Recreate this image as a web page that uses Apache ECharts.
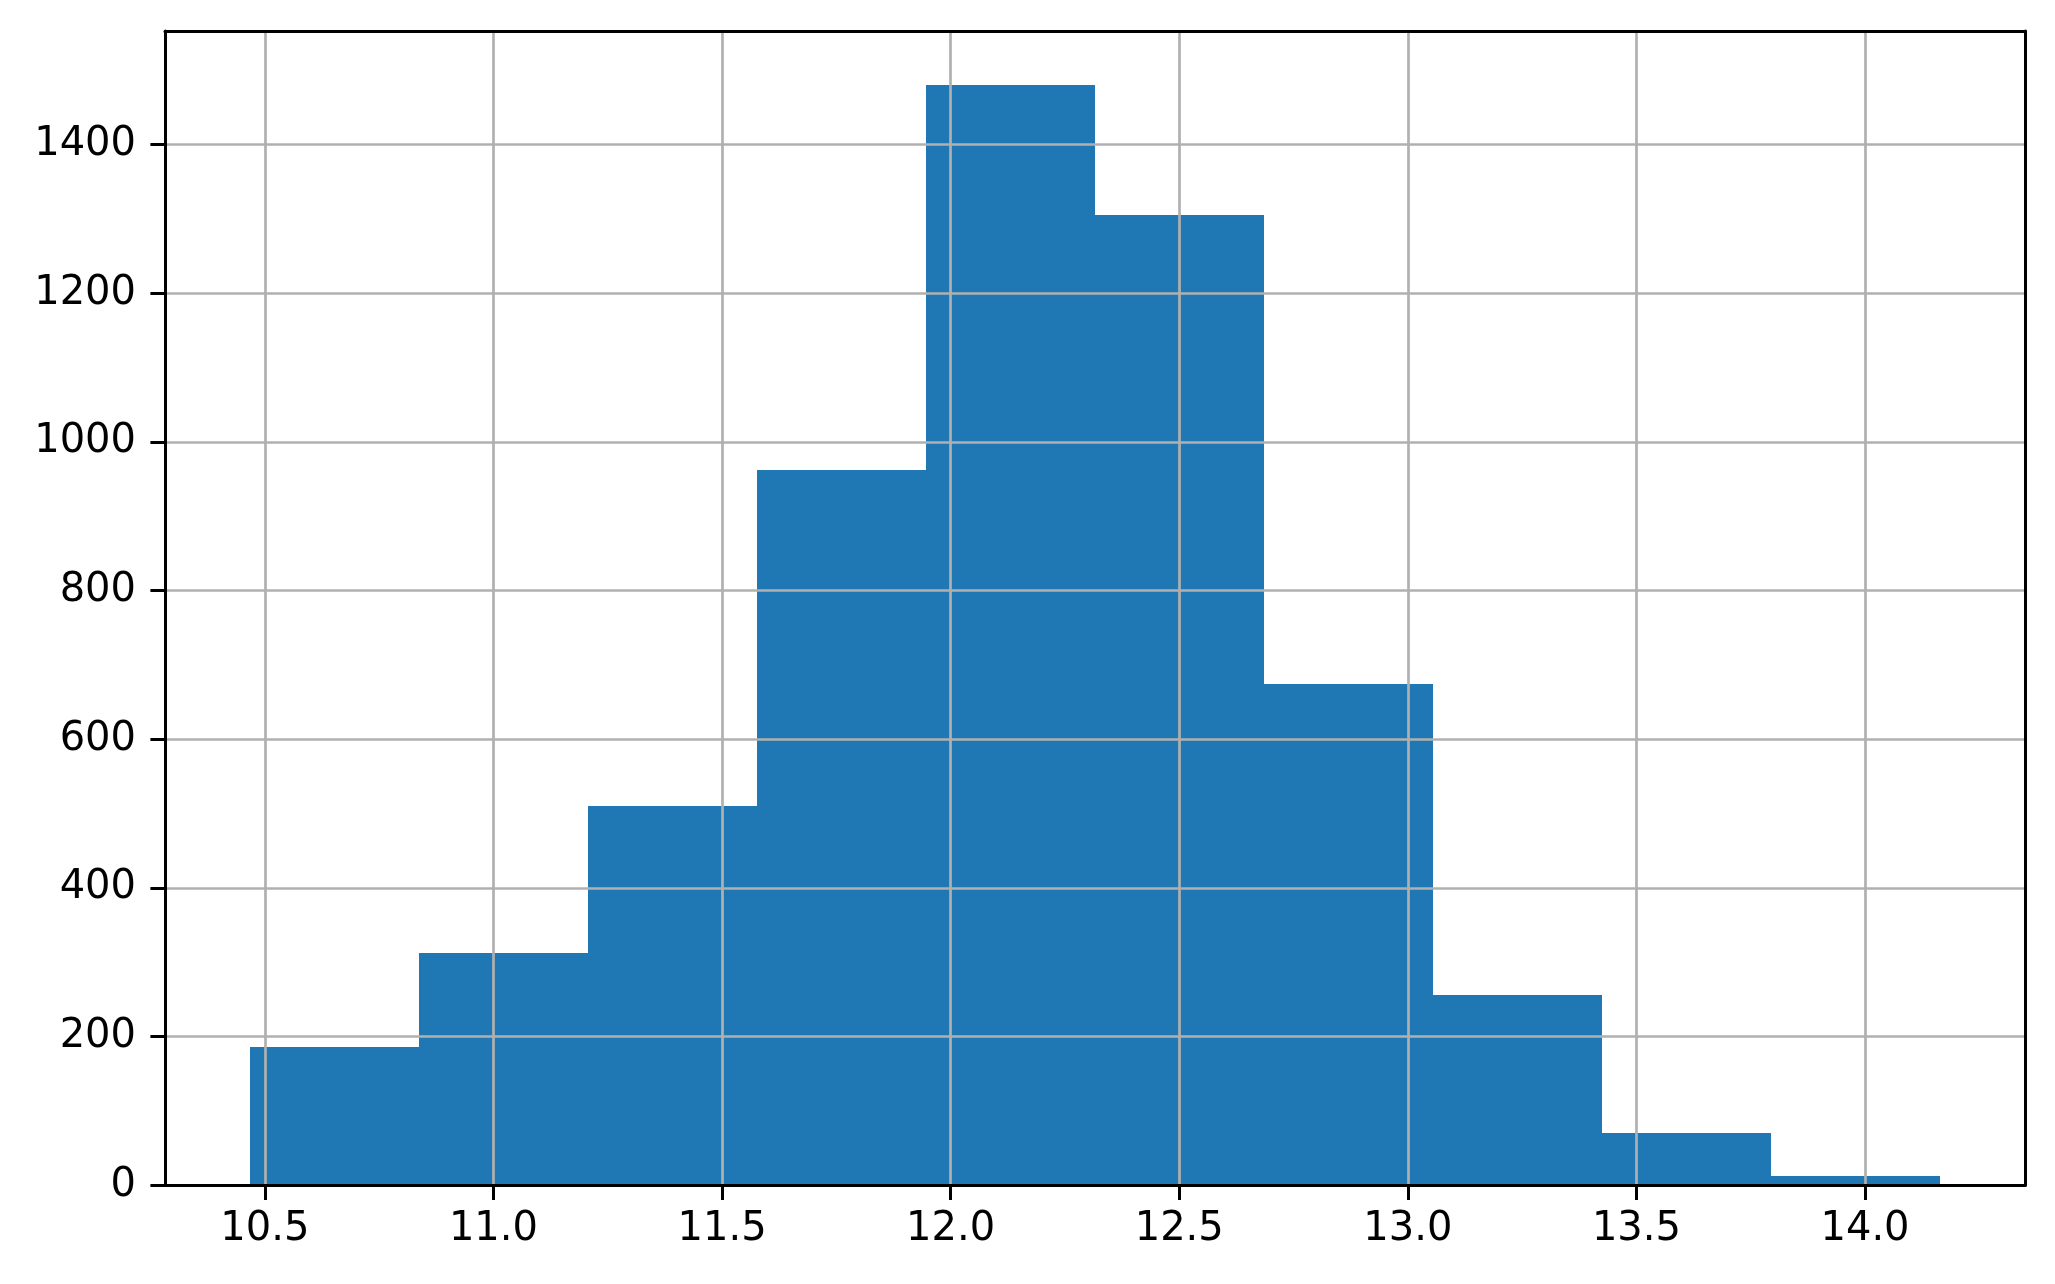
<!DOCTYPE html>
<html>
<head>
<meta charset="utf-8">
<script src="https://cdn.jsdelivr.net/npm/echarts@6/dist/echarts.min.js"></script>
<style>
html,body{margin:0;padding:0;background:#fff;}
#chart{width:2055px;height:1284px;}
</style>
</head>
<body>
<div id="chart"></div>
<script>
// Histogram bin edges (x) and counts per bin
var binEdges = [10.4665, 10.8364, 11.2062, 11.5761, 11.9459, 12.3158, 12.6856, 13.0555, 13.4253, 13.7952, 14.165];
var counts = [186, 313, 510, 962, 1480, 1306, 674, 256, 70, 12];
var xTicks = [10.5, 11.0, 11.5, 12.0, 12.5, 13.0, 13.5, 14.0];
var yTicks = [0, 200, 400, 600, 800, 1000, 1200, 1400];
var xRange = [10.2816, 14.3499];
var yRange = [0, 1553];

var histData = counts.map(function (c, i) { return [binEdges[i], binEdges[i + 1], c]; });

var font = { fontFamily: 'DejaVu Sans', fontSize: 40, color: '#000' };
var chart = echarts.init(document.getElementById('chart'), null, { renderer: 'canvas' });
chart.setOption({
  animation: false,
  backgroundColor: '#fff',
  grid: { left: 165, top: 31, right: 30, bottom: 98.7, containLabel: false },
  xAxis: [{
    type: 'value', min: xRange[0], max: xRange[1], z: 5,
    axisLine: { show: true, onZero: false, lineStyle: { color: '#000', width: 3 } },
    axisTick: { show: true, inside: false, length: 14.6, customValues: xTicks, lineStyle: { color: '#000', width: 3 } },
    axisLabel: Object.assign({ margin: 24, customValues: xTicks, formatter: function (v) { return v.toFixed(1); } }, font),
    splitLine: { show: true, lineStyle: { color: '#b0b0b0', width: 2.7 } }
  }, {
    type: 'value', position: 'top', min: xRange[0], max: xRange[1], z: 5,
    axisLine: { show: true, onZero: false, lineStyle: { color: '#000', width: 3 } },
    axisTick: { show: false }, axisLabel: { show: false }, splitLine: { show: false }
  }],
  yAxis: [{
    type: 'value', min: yRange[0], max: yRange[1], z: 5,
    axisLine: { show: true, onZero: false, lineStyle: { color: '#000', width: 3 } },
    axisTick: { show: true, inside: false, length: 14.6, customValues: yTicks, lineStyle: { color: '#000', width: 3 } },
    axisLabel: Object.assign({ margin: 29, customValues: yTicks, formatter: function (v) { return String(Math.round(v)); } }, font),
    splitLine: { show: true, lineStyle: { color: '#b0b0b0', width: 2.7 } }
  }, {
    type: 'value', position: 'right', min: yRange[0], max: yRange[1], z: 5,
    axisLine: { show: true, onZero: false, lineStyle: { color: '#000', width: 3 } },
    axisTick: { show: false }, axisLabel: { show: false }, splitLine: { show: false }
  }],
  series: [{
    type: 'custom', z: 1,
    xAxisIndex: 0, yAxisIndex: 0,
    data: histData,
    encode: { x: [0, 1], y: 2 },
    renderItem: function (params, api) {
      var p0 = api.coord([api.value(0), api.value(2)]);
      var p1 = api.coord([api.value(1), 0]);
      var x0 = Math.round(p0[0]), x1 = Math.round(p1[0]);
      var y0 = Math.round(p0[1]), y1 = p1[1];
      return {
        type: 'rect',
        shape: { x: x0, y: y0, width: x1 - x0, height: y1 - y0 },
        style: { fill: '#1f77b4' }
      };
    }
  }]
});
</script>
</body>
</html>
